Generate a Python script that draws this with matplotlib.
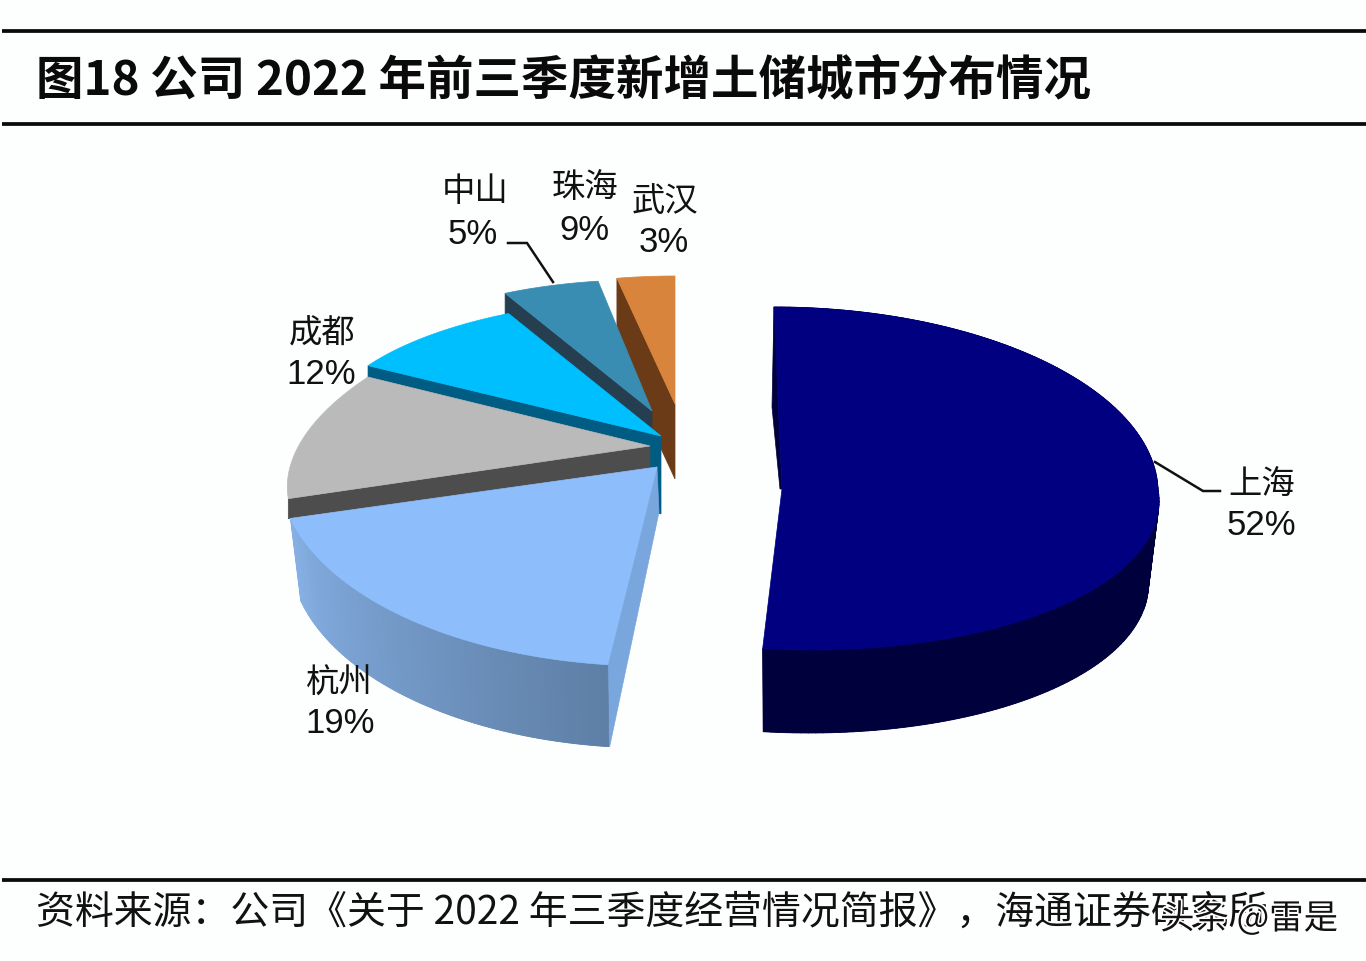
#!/usr/bin/env python3
"""Fig 18: exploded 3D-look pie of new land bank by city, drawn in pixel space."""

import matplotlib
matplotlib.use("Agg")
import matplotlib.patheffects as pe
import matplotlib.pyplot as plt
import numpy as np
from matplotlib.collections import PolyCollection
from matplotlib.colors import LinearSegmentedColormap
from matplotlib.patches import Polygon

W, H = 1366, 962
CJK = ["Noto Sans CJK SC", "DejaVu Sans"]
LABEL_FONT = ["Liberation Sans", "Noto Sans CJK SC"]

TITLE = "图18 公司 2022 年前三季度新增土储城市分布情况"
SOURCE = "资料来源：公司《关于 2022 年三季度经营情况简报》，海通证券研究所"
WATERMARK = "头条 @雷是"

# clockwise from 12 o'clock
CITIES = ["上海", "杭州", "成都", "珠海", "中山", "武汉"]
SHARES = [52, 19, 12, 9, 5, 3]

TOP_COLORS = ["#000080", "#8DBEFB", "#BABABA", "#00BFFF", "#3A8DB2", "#D8843C"]
WALL_COLORS = ["#00003E", "#79A6DC", "#4D4D4D", "#005C82", "#263F50", "#6B3A16"]
SIDE_FROM = ["#00003C", "#5E7FA6", "#000000", "#000000", "#000000", "#000000"]
SIDE_TO = ["#00003C", "#86B0E4", "#000000", "#000000", "#000000", "#000000"]

# projection of each exploded slice: apex, radii and shear of its ellipse
APEX_X = [782, 657, 650, 661, 652, 675]
APEX_Y = [490, 468, 447, 437, 412, 405]
RADIUS_X = [376, 378, 357, 342, 314, 310]
RADIUS_Y_BACK = [182, 199, 165, 137, 131, 128]
RADIUS_Y_FRONT = [161, 199, 165, 137, 131, 128]
SHEAR_X_BACK = [8, -2, -64, -14, -5, 0]
SHEAR_X_FRONT = [28, -2, -64, -14, -5, 0]
SHEAR_Y = [0, -2, -12, 5, 6, 0]
RIM_DEPTH = [83, 82, 0, 0, 0, 0]
WALL_DEPTH_RIM = [100, 82, 20, 30, 30, 75]
WALL_DEPTH_APEX = [0, 45, 25, 78, 30, 75]
WALL_DX = [-2, 2, 0, 0, 0, 0]
BOTTOM_SHRINK = 0.972

# name and percent label centres, in pixels
LABEL_X = [1262, 339, 322, 585, 475, 665]
NAME_Y = [486, 684, 335, 189, 193, 202]
PCT_X = [1261, 340, 321, 584, 473, 664]
PCT_Y = [526, 724, 375, 230, 234, 243]

LEADERS = [
    ([1155, 1203, 1220], [463, 492, 492]),
    ([508, 527, 553], [244, 244, 283]),
]


def rim_point(i, t):
    """Screen position of angle t (radians, clockwise from top) on slice i's rim."""
    s, c = np.sin(t), np.cos(t)
    ry = np.where(c >= 0, RADIUS_Y_BACK[i], RADIUS_Y_FRONT[i])
    xs = np.where(c >= 0, SHEAR_X_BACK[i], SHEAR_X_FRONT[i])
    return APEX_X[i] + RADIUS_X[i] * s - xs * c, APEX_Y[i] - ry * c + SHEAR_Y[i] * s


def draw_slice(ax, i, t0, t1):
    ts = np.linspace(t0, t1, 160)
    x, y = rim_point(i, ts)
    ex, ey = rim_point(i, t0)

    # wall on the starting edge, seen from the front
    wall = [
        (ex, ey),
        (APEX_X[i], APEX_Y[i]),
        (APEX_X[i] + WALL_DX[i], APEX_Y[i] + WALL_DEPTH_APEX[i]),
        (ex + WALL_DX[i], ey + WALL_DEPTH_RIM[i]),
    ]
    ax.add_patch(Polygon(wall, fc=WALL_COLORS[i], ec=WALL_COLORS[i], lw=0.5))

    if RIM_DEPTH[i]:
        bx = APEX_X[i] + (x - APEX_X[i]) * BOTTOM_SHRINK
        by = y + RIM_DEPTH[i]
        cmap = LinearSegmentedColormap.from_list("side", [SIDE_FROM[i], SIDE_TO[i]])
        # backing shape so the gradient strips leave no seams
        band = np.column_stack([np.r_[x, bx[::-1]], np.r_[y, by[::-1]]])
        ax.add_patch(Polygon(band, fc=cmap(0.5), ec="none"))
        quads = [
            [(x[k], y[k]), (x[k + 1], y[k + 1]), (bx[k + 1], by[k + 1]), (bx[k], by[k])]
            for k in range(len(ts) - 1)
        ]
        colors = cmap(np.linspace(0, 1, len(quads)))
        ax.add_collection(PolyCollection(quads, facecolors=colors, edgecolors=colors, linewidths=0.6))

    top = np.column_stack([np.r_[APEX_X[i], x], np.r_[APEX_Y[i], y]])
    ax.add_patch(Polygon(top, fc=TOP_COLORS[i], ec=TOP_COLORS[i], lw=0.5))


def main():
    fig = plt.figure(figsize=(W / 100, H / 100), dpi=100, facecolor="#fdfefe")
    ax = fig.add_axes([0, 0, 1, 1])
    ax.set_xlim(0, W)
    ax.set_ylim(H, 0)
    ax.axis("off")

    for y in (32, 125, 881):
        ax.plot([2, W], [y, y], color="#0a0a0a", lw=2.7, solid_capstyle="butt")

    ax.text(36, 81, TITLE, family=CJK, fontsize=34.2, fontweight="bold", va="center", color="#0a0a0a")
    ax.text(36, 913, SOURCE, family=CJK, fontsize=28, va="center", color="#111111")
    ax.text(1160, 920, WATERMARK, family=CJK, fontsize=24.8, va="center", color="#111111",
            path_effects=[pe.withStroke(linewidth=2.5, foreground="white")])

    edges = np.radians(np.r_[0, np.cumsum(SHARES)] * 3.6)
    # painter's order, back slices first
    for i in (5, 4, 3, 2, 1, 0):
        draw_slice(ax, i, edges[i], edges[i + 1])

    for xs, ys in LEADERS:
        ax.plot(xs, ys, color="#111111", lw=1.8, solid_joinstyle="miter")

    for i, city in enumerate(CITIES):
        ax.text(LABEL_X[i], NAME_Y[i], city, family=LABEL_FONT, fontsize=24,
                ha="center", va="center", color="#111111")
        ax.text(PCT_X[i], PCT_Y[i], f"{SHARES[i]}%", family=LABEL_FONT, fontsize=25,
                ha="center", va="center", color="#111111")

    fig.savefig("out.png", dpi=100, facecolor=fig.get_facecolor())
    plt.close(fig)


if __name__ == "__main__":
    main()
